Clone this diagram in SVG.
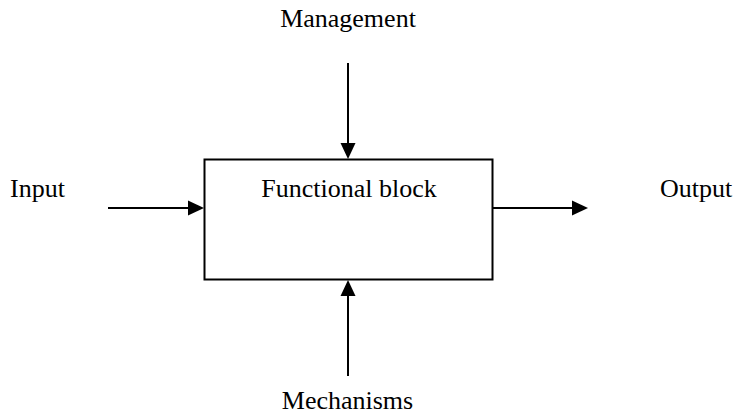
<svg xmlns="http://www.w3.org/2000/svg" width="737" height="414" viewBox="0 0 737 414">
  <style>
    text { font-family: 'Liberation Serif', 'DejaVu Serif', serif; font-size: 26px; fill: #000; }
    .box { fill: #fff; stroke: #000; stroke-width: 2; }
    .wire { stroke: #000; stroke-width: 2; fill: none; }
    .head { fill: #000; }
  </style>
  <rect width="737" height="414" fill="#fff"/>

  <!-- connectors: line plus a filled triangular head at the target end -->
  <g id="connectors">
    <g id="input-arrow">
      <line class="wire" x1="108" y1="208" x2="190" y2="208"/>
      <polygon class="head" points="204,208 188,200.5 188,215.5"/>
    </g>
    <g id="output-arrow">
      <line class="wire" x1="492" y1="208" x2="574" y2="208"/>
      <polygon class="head" points="588,208 572,200.5 572,215.5"/>
    </g>
    <g id="management-arrow">
      <line class="wire" x1="348" y1="63" x2="348" y2="145"/>
      <polygon class="head" points="348,159 340.5,143 355.5,143"/>
    </g>
    <g id="mechanisms-arrow">
      <line class="wire" x1="348" y1="376" x2="348" y2="294"/>
      <polygon class="head" points="348,280 340.5,296 355.5,296"/>
    </g>
  </g>

  <g font-family="Liberation Serif, DejaVu Serif, serif" font-size="26">
    <g id="functional-block">
      <rect class="box" x="204.5" y="159.5" width="288" height="120"/>
      <text x="349" y="197" text-anchor="middle">Functional block</text>
    </g>
    <g id="management">
      <text x="348" y="27" text-anchor="middle">Management</text>
    </g>
    <g id="input">
      <text x="10" y="197">Input</text>
    </g>
    <g id="output">
      <text x="660" y="197">Output</text>
    </g>
    <g id="mechanisms">
      <text x="347.5" y="409" text-anchor="middle">Mechanisms</text>
    </g>
  </g>
</svg>
